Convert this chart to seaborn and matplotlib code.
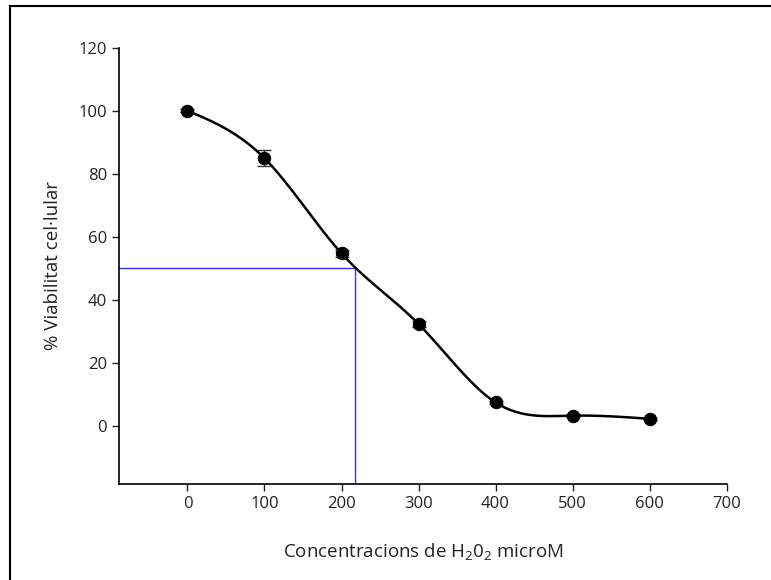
import numpy as np
import pandas as pd
import seaborn as sns
import matplotlib.pyplot as plt
from matplotlib.patches import Rectangle

# data
conc = [0, 100, 200, 300, 400, 500, 600]
viab = [100.0, 84.9, 54.7, 32.3, 7.4, 3.2, 2.2]
err = [0.5, 2.6, 1.0, 1.0, 0.5, 0.4, 0.4]
ic50_x = 217
ic50_y = 50
xticks = [0, 100, 200, 300, 400, 500, 600, 700]
yticks = [0, 20, 40, 60, 80, 100, 120]


def natural_spline(x, y, n=300):
    # plain natural cubic spline, just for drawing the smooth line
    x = np.asarray(x, float)
    y = np.asarray(y, float)
    k = len(x)
    h = np.diff(x)
    A = np.zeros((k, k))
    b = np.zeros(k)
    A[0, 0] = A[-1, -1] = 1
    for i in range(1, k - 1):
        A[i, i - 1] = h[i - 1]
        A[i, i] = 2 * (h[i - 1] + h[i])
        A[i, i + 1] = h[i]
        b[i] = 6 * ((y[i + 1] - y[i]) / h[i] - (y[i] - y[i - 1]) / h[i - 1])
    M = np.linalg.solve(A, b)
    xs = np.linspace(x[0], x[-1], n)
    idx = np.clip(np.searchsorted(x, xs) - 1, 0, k - 2)
    x0, x1 = x[idx], x[idx + 1]
    hh = x1 - x0
    t0, t1 = x1 - xs, xs - x0
    ys = (M[idx] * t0**3 + M[idx + 1] * t1**3) / (6 * hh) \
        + (y[idx] / hh - M[idx] * hh / 6) * t0 \
        + (y[idx + 1] / hh - M[idx + 1] * hh / 6) * t1
    return xs, ys


sns.set_style("ticks")
plt.rcParams['font.family'] = ['Open Sans', 'DejaVu Sans']
plt.rcParams['mathtext.default'] = 'regular'

fig = plt.figure(figsize=(7.71, 5.8), dpi=100)
ax = fig.add_axes([0.1543, 0.1655, 0.788, 0.7523])

df = pd.DataFrame({'conc': conc, 'viab': viab})
sx, sy = natural_spline(conc, viab)
sns.lineplot(x=sx, y=sy, ax=ax, color='black', linewidth=1.8, zorder=3)
ax.errorbar(conc, viab, yerr=err, fmt='none', ecolor='#333333',
            elinewidth=1, capsize=5, zorder=4)
sns.scatterplot(data=df, x='conc', y='viab', ax=ax, color='black', s=80,
                edgecolor='black', zorder=5)

# IC50 guide lines
ax.plot([-89, ic50_x], [ic50_y, ic50_y], color='#3333ff', linewidth=1, zorder=2)
ax.plot([ic50_x, ic50_x], [-18.5, ic50_y], color='#3333ff', linewidth=1, zorder=2)

ax.set_xlim(-89, 700)
ax.set_ylim(-18.5, 120)
ax.set_xticks(xticks)
ax.set_yticks(yticks)
ax.tick_params(direction='out', length=5, width=1, labelsize=12, colors='#222222')
for s in ['left', 'bottom']:
    ax.spines[s].set_linewidth(1.2)
    ax.spines[s].set_color('black')
sns.despine(ax=ax)

ax.set_xlabel('Concentracions de H$_2$0$_2$ microM', fontsize=13.5, labelpad=21,
              color='#222222')
ax.set_ylabel('% Viabilitat cel·lular', fontsize=13.5, labelpad=12, color='#222222')

# frame round the whole picture
fig.patches.append(Rectangle((10 / 771, -0.1), 1.2, (580 - 6) / 580 + 0.1,
                             transform=fig.transFigure, fill=False,
                             edgecolor='black', linewidth=1.5))

fig.savefig('out.png', dpi=100)
